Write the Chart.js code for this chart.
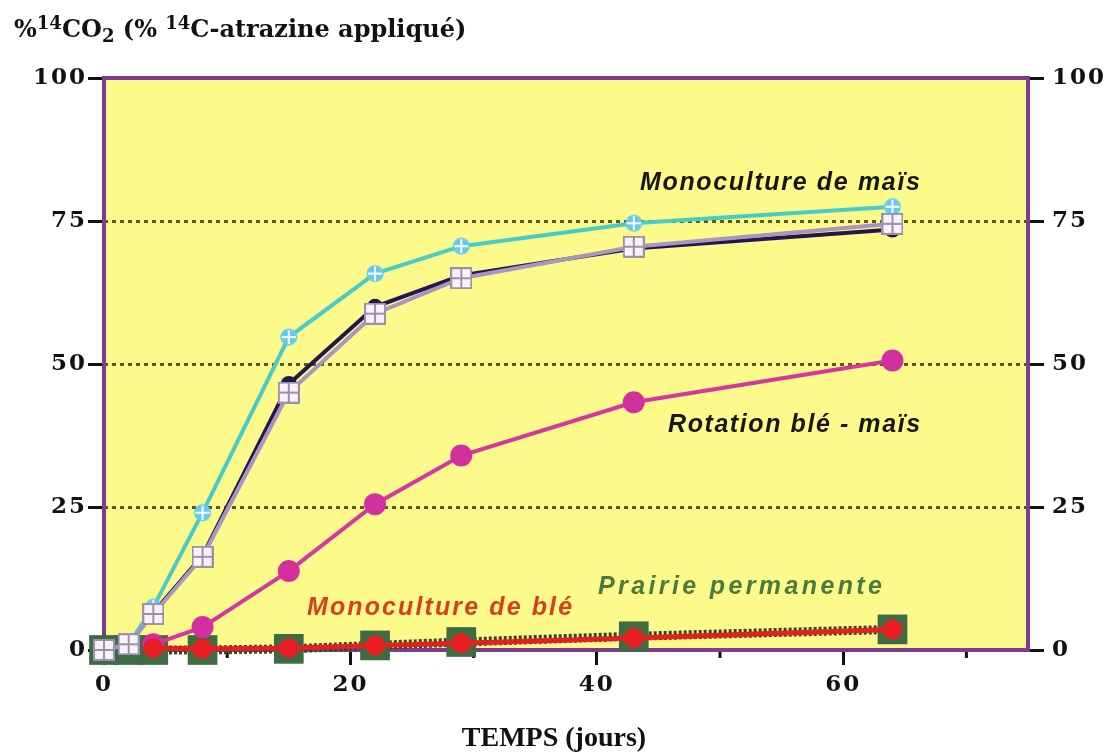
<!DOCTYPE html>
<html lang="fr">
<head>
<meta charset="utf-8">
<title>Minéralisation de l'atrazine</title>
<script src="https://cdn.jsdelivr.net/npm/chart.js@4"></script>
<style>
  html, body { margin: 0; background: #fff; }
  #cadre { position: relative; width: 1108px; height: 753px; }
  #titre {
    position: absolute; left: 14px; top: 14px;
    font: bold 24px "DejaVu Serif", serif; color: #111; white-space: nowrap;
  }
  #titre sup { font-size: 18px; vertical-align: 8px; line-height: 0; }
  #titre sub { font-size: 18px; vertical-align: -5px; line-height: 0; }
  #temps {
    position: absolute; left: 0; width: 1108px; top: 721px; text-align: center;
    font: bold 28px "Liberation Serif", serif; color: #111;
  }
</style>
</head>
<body>
<div id="cadre">
  <canvas id="courbes"></canvas>
  <div id="titre">%<sup>14</sup>CO<sub>2</sub> (% <sup>14</sup>C-atrazine appliqué)</div>
  <div id="temps">TEMPS (jours)</div>
</div>
<script>
// jours de prélèvement
const jours = [0, 2, 4, 8, 15, 22, 29, 43, 64];

// % 14CO2 cumulé, par sol
const maisCyan = [0, 1, 7.5, 24, 54.7, 65.8, 70.6, 74.6, 77.5];
const maisNoir = [0, 1, 6.5, 16.5, 46.5, 60, 65.5, 70.2, 73.5];
const maisGris = [0, 1, 6.3, 16.3, 45, 58.8, 65, 70.5, 74.5];
const rotation = [null, null, 1, 4, 13.8, 25.5, 34, 43.3, 50.6];
const prairie = [0, 0, 0, 0, 0.2, 0.8, 1.4, 2.4, 3.6];
const monoBle = [null, null, 0.3, 0.2, 0.3, 0.8, 1.2, 2.1, 3.6];

const yTicks = [0, 25, 50, 75, 100];
const xTicks = [0, 10, 20, 30, 40, 50, 60, 70];
const xLabels = [0, 20, 40, 60];

const pts = vals => jours.map((j, i) => ({ x: j, y: vals[i] }));

// marqueurs dessinés à la main
function carreGrille() {
  const c = document.createElement('canvas');
  c.width = c.height = 22;
  const g = c.getContext('2d');
  g.fillStyle = '#f7f2fb';
  g.fillRect(1, 1, 20, 20);
  g.strokeStyle = '#9a91ad';
  g.lineWidth = 2;
  g.strokeRect(1, 1, 20, 20);
  g.beginPath();
  g.moveTo(11, 1); g.lineTo(11, 21);
  g.moveTo(1, 11); g.lineTo(21, 11);
  g.stroke();
  return c;
}

function rondCroix() {
  const c = document.createElement('canvas');
  c.width = c.height = 20;
  const g = c.getContext('2d');
  g.fillStyle = '#66c9f0';
  g.beginPath(); g.arc(10, 10, 8.5, 0, Math.PI * 2); g.fill();
  g.strokeStyle = '#fff';
  g.lineWidth = 2;
  g.beginPath();
  g.moveTo(10, 3); g.lineTo(10, 17);
  g.moveTo(3, 10); g.lineTo(17, 10);
  g.stroke();
  return c;
}

// textes posés dans la zone du graphe : [texte, couleur, gauche, droite, ligne de base]
const notes = [
  ['Monoculture de maïs', '#171717', 640, 920, 190],
  ['Rotation blé - maïs', '#171717', 668, 920, 432],
  ['Prairie permanente', '#4b7a3c', 598, 882, 594],
  ['Monoculture de blé', '#d8401c', 307, 572, 615]
];

const decor = {
  id: 'decor',
  beforeDraw(chart) {
    const { ctx, chartArea: a } = chart;
    ctx.save();
    ctx.fillStyle = '#fdfa8c';
    ctx.fillRect(a.left, a.top, a.right - a.left, a.bottom - a.top);
    ctx.restore();
    ctx.letterSpacing = '2px';
  },
  beforeDatasetsDraw(chart) {
    const { ctx, chartArea: a, scales } = chart;
    ctx.letterSpacing = '0px';
    ctx.save();
    // petites graduations intermédiaires
    ctx.strokeStyle = '#111';
    ctx.lineWidth = 3;
    scales.x.ticks.forEach(t => {
      if (xLabels.includes(t.value)) return;
      const px = scales.x.getPixelForValue(t.value);
      ctx.beginPath();
      ctx.moveTo(px, a.bottom);
      ctx.lineTo(px, a.bottom + 8);
      ctx.stroke();
    });
    ctx.strokeStyle = '#7e3b8f';
    ctx.lineWidth = 4;
    ctx.strokeRect(a.left, a.top, a.right - a.left, a.bottom - a.top);
    ctx.restore();
  },
  afterDatasetsDraw(chart) {
    const { ctx } = chart;
    ctx.save();
    ctx.font = 'italic bold 25px "Liberation Sans", sans-serif';
    ctx.textBaseline = 'alphabetic';
    ctx.textAlign = 'left';
    notes.forEach(([txt, col, x0, x1, yb]) => {
      ctx.letterSpacing = '0px';
      const w = ctx.measureText(txt).width;
      ctx.letterSpacing = ((x1 - x0 - w) / (txt.length - 1)).toFixed(2) + 'px';
      ctx.fillStyle = col;
      ctx.fillText(txt, x0, yb);
    });
    ctx.restore();
    ctx.letterSpacing = '0px';
  }
};

const policeAxe = { family: 'DejaVu Serif', weight: 'bold', size: 23 };

new Chart(document.getElementById('courbes'), {
  type: 'line',
  data: {
    datasets: [
      {
        data: pts(maisCyan), borderColor: '#47ccc7', borderWidth: 4,
        pointStyle: rondCroix(), order: 2
      },
      {
        data: pts(maisGris), borderColor: '#a797bf', borderWidth: 4,
        pointStyle: carreGrille(), order: 1
      },
      {
        data: pts(monoBle), borderColor: '#e41f1f', borderWidth: 5,
        pointStyle: 'circle', pointRadius: 10, pointBackgroundColor: '#e81e22',
        pointBorderWidth: 0, order: 3
      },
      {
        data: pts(maisNoir), borderColor: '#22184f', borderWidth: 4,
        pointStyle: 'circle', pointRadius: 8, pointBackgroundColor: '#22184f',
        pointBorderWidth: 0, order: 4
      },
      {
        data: pts(rotation), borderColor: '#d5379f', borderWidth: 4,
        pointStyle: 'circle', pointRadius: 11, pointBackgroundColor: '#d3309f',
        pointBorderWidth: 0, order: 5
      },
      {
        data: pts(prairie), borderColor: '#2f4a2a', borderWidth: 9, borderDash: [3, 2],
        pointStyle: 'rect', pointRadius: 21, pointBackgroundColor: '#3e6b42',
        pointBorderWidth: 0, order: 6
      }
    ]
  },
  options: {
    responsive: true,
    maintainAspectRatio: false,
    animation: false,
    events: [],
    layout: { padding: { top: 78 } },
    elements: { line: { tension: 0 } },
    datasets: { line: { clip: false } },
    plugins: { legend: { display: false }, tooltip: { enabled: false } },
    scales: {
      x: {
        type: 'linear', min: 0, max: 75,
        afterBuildTicks: s => { s.ticks = xTicks.map(v => ({ value: v })); },
        afterFit: s => { s.height = 103; },
        border: { display: false },
        grid: {
          drawOnChartArea: false, tickLength: 15, tickWidth: 3,
          tickColor: c => xLabels.includes(c.tick.value) ? '#111' : 'rgba(0,0,0,0)'
        },
        ticks: {
          callback: v => xLabels.includes(v) ? String(v) : '',
          font: policeAxe, color: '#111', padding: 6, maxRotation: 0, autoSkip: false
        }
      },
      y: {
        position: 'left', min: 0, max: 100,
        afterBuildTicks: s => { s.ticks = yTicks.map(v => ({ value: v })); },
        afterFit: s => { s.width = 104; },
        border: { display: false, dash: [4, 4] },
        grid: {
          lineWidth: 3, tickLength: 16, tickWidth: 3, tickColor: '#111',
          color: c => (c.tick.value === 0 || c.tick.value === 100) ? 'rgba(0,0,0,0)' : '#5c591d'
        },
        ticks: { font: policeAxe, color: '#111', padding: 1 }
      },
      y2: {
        position: 'right', min: 0, max: 100,
        afterBuildTicks: s => { s.ticks = yTicks.map(v => ({ value: v })); },
        afterFit: s => { s.width = 80; },
        border: { display: false },
        grid: { drawOnChartArea: false, tickLength: 16, tickWidth: 3, tickColor: '#111' },
        ticks: { font: policeAxe, color: '#111', padding: 8 }
      }
    }
  },
  plugins: [decor]
});
</script>
</body>
</html>
